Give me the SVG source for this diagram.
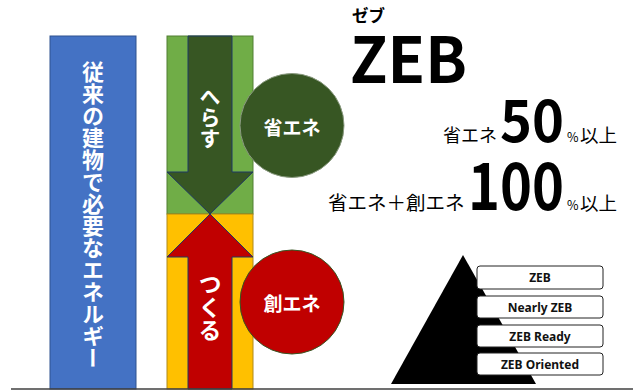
<svg xmlns="http://www.w3.org/2000/svg" width="633" height="390" viewBox="0 0 633 390">
<style>
.jp{font-family:"Noto Sans CJK JP","Noto Sans",sans-serif;}
.w{fill:#fff;font-weight:bold;}
.vt{writing-mode:vertical-rl;text-anchor:start;}
.k{fill:#000;}
.big{font-weight:bold;}
.box{fill:#fff;stroke:#222;stroke-width:1;}
.bt{font-family:"Noto Sans","Noto Sans CJK JP",sans-serif;font-weight:bold;font-size:12px;text-anchor:middle;fill:#111;}
</style>
<rect width="633" height="390" fill="#fff"/>
<g id="conventional">
<rect x="50" y="36" width="86" height="353" fill="#4472C4" stroke="#2F528F"/>
<text class="jp w vt" x="93" y="61" font-size="22">従来の建物で必要なエネルギー</text>
</g>
<g id="column">
<rect x="167" y="36" width="86" height="178" fill="#70AD47" stroke="#507E32"/>
<rect x="167" y="214" width="86" height="175" fill="#FFC000" stroke="#B08A1A"/>
</g>
<g id="connectors">
<polygon id="reduce-arrow" points="188,36 232,36 232,172 253,172 210,214 167,172 188,172" fill="#375623" stroke="#1F3864" stroke-width="1"/>
<polygon id="create-arrow" points="210,214 253,257 232,257 232,389 188,389 188,257 167,257" fill="#C00000" stroke="#1F3864" stroke-width="1"/>
<line x1="11" y1="389" x2="633" y2="389" stroke="#404040" stroke-width="1.5"/>
</g>
<g id="reduce-label">
<text class="jp w vt" x="210" y="86" font-size="21">へらす</text>
</g>
<g id="create-label">
<text class="jp w vt" x="210" y="273" font-size="23">つくる</text>
</g>
<g id="energy-saving">
<circle cx="292" cy="125.5" r="52" fill="#375623" stroke="#8a9a80" stroke-width="1"/>
<text class="jp w" x="292" y="126" font-size="19" text-anchor="middle" dominant-baseline="central">省エネ</text>
</g>
<g id="energy-creation">
<circle cx="292" cy="302" r="52" fill="#C00000" stroke="#375623" stroke-width="1"/>
<text class="jp w" x="292" y="302" font-size="19" text-anchor="middle" dominant-baseline="central">創エネ</text>
</g>
<g id="zeb-title">
<text class="jp k" x="352" y="22" font-size="16.5" font-weight="bold">ゼブ</text>
<text class="jp k" x="350" y="83" font-size="63" font-weight="bold" textLength="117" lengthAdjust="spacingAndGlyphs">ZEB</text>
</g>
<g id="zeb-50">
<text class="jp k" y="142"><tspan x="443" font-size="18">省エネ</tspan><tspan x="500" font-size="57" class="big" textLength="64" lengthAdjust="spacingAndGlyphs">50</tspan><tspan x="567" font-size="12.5">%</tspan><tspan x="580" font-size="18.5">以上</tspan></text>
</g>
<g id="zeb-100">
<text class="jp k" y="210"><tspan x="328" font-size="19.5">省エネ＋創エネ</tspan><tspan x="468" font-size="64" class="big" textLength="96" lengthAdjust="spacingAndGlyphs">100</tspan><tspan x="567" font-size="12.5">%</tspan><tspan x="580" font-size="18.5">以上</tspan></text>
</g>
<g id="pyramid">
<polygon points="463,255 536,384 391,384" fill="#000"/>
</g>
<g id="level-zeb">
<rect class="box" x="477" y="266" width="126" height="23" rx="3"/>
<text class="bt" x="540" y="282">ZEB</text>
</g>
<g id="level-nearly">
<rect class="box" x="477" y="296" width="126" height="22" rx="3"/>
<text class="bt" x="540" y="311.5">Nearly ZEB</text>
</g>
<g id="level-ready">
<rect class="box" x="477" y="325" width="126" height="22" rx="3"/>
<text class="bt" x="540" y="340.5">ZEB Ready</text>
</g>
<g id="level-oriented">
<rect class="box" x="477" y="353" width="126" height="22" rx="3"/>
<text class="bt" x="540" y="368.5">ZEB Oriented</text>
</g>
</svg>
